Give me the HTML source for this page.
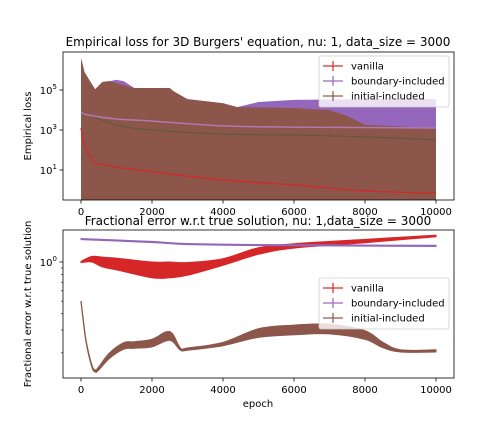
<!DOCTYPE html>
<html><head><meta charset="utf-8"><style>
html,body{margin:0;padding:0;background:#fff;}
svg{display:block;font-family:"DejaVu Sans","Liberation Sans",sans-serif;}
</style></head><body>
<svg id="fig" width="504" height="432" viewBox="0 0 504 432"></svg>
<script>
// ---- Top chart data (empirical loss) ----
const topVanillaEpochs=[0,50,150,300,400,1000,2000,4000,6000,8000,10000];
const topVanillaMean=[1260,400,100,35,22,14,8,3.2,1.8,0.9,0.7];
const topBoundaryEpochs=[0,200,1000,2000,4000,6000,10000];
const topBoundaryMean=[7900,5600,3550,2800,1600,1400,1260];
const topBoundaryUpperEpochs=[0,100,300,400,600,800,1000,1200,1500,2500,2700,3000,4000,4400,5000,6000,8000,10000];
const topBoundaryUpper=[4e6,7.9e5,2e5,1.1e5,2.5e5,2.8e5,3.2e5,2.8e5,1.26e5,1.26e5,5e4,3.5e4,2.2e4,1.4e4,2.5e4,3.2e4,3.5e4,3.5e4];
const topInitialEpochs=[0,1000,2000,4000,6000,8000,10000];
const topInitialMean=[7900,1800,1000,630,560,450,320];
const topInitialUpperEpochs=[0,50,100,300,400,600,800,1500,2500,2600,3000,4000,4400,6000,7000,7500,8000,10000];
const topInitialUpper=[4e6,1.8e6,7.9e5,2e5,1.1e5,2.5e5,2.8e5,1.26e5,1.26e5,8.9e4,3.5e4,2.2e4,1.4e4,1.26e4,1e4,5000,1800,1260];
const topXTicks=[0,2000,4000,6000,8000,10000];
const topYTicks=[1,3,5];
// ---- Bottom chart data (fractional error) ----
const botVanillaEpochs=[0,300,600,1000,2000,2500,3000,4000,5000,6000,8000,10000];
const botVanillaMean=[1.00,1.05,1.00,0.965,0.87,0.87,0.885,1.00,1.215,1.33,1.45,1.585];
const botVanillaErr=[1.01,1.05,1.09,1.11,1.15,1.15,1.12,1.06,1.06,1.04,1.03,1.015];
const botBoundaryEpochs=[0,2000,3000,5000,10000];
const botBoundaryMean=[1.50,1.425,1.375,1.35,1.33];
const botBoundaryErr=[1.01,1.01,1.01,1.01,1.01];
const botInitialEpochs=[0,50,150,300,400,500,800,1200,1500,2000,2500,2800,3000,4000,5000,6000,7000,8000,8500,9000,10000];
const botInitialMean=[0.501,0.38,0.24,0.16,0.145,0.152,0.19,0.226,0.230,0.238,0.27,0.214,0.214,0.234,0.284,0.300,0.305,0.274,0.230,0.207,0.207];
const botInitialErr=[1,1.01,1.02,1.02,1.02,1.03,1.05,1.06,1.06,1.07,1.08,1.02,1.02,1.03,1.08,1.09,1.09,1.08,1.05,1.02,1.02];
const botXTicks=[0,2000,4000,6000,8000,10000];

const NS="http://www.w3.org/2000/svg";
const svg=document.getElementById('fig');
function el(tag,attrs,parent,text){const e=document.createElementNS(NS,tag);for(const k in attrs)e.setAttribute(k,attrs[k]);if(text!==undefined)e.textContent=text;(parent||svg).appendChild(e);return e;}
const xS=v=>81+v*(436-81)/10000;
const yTop=v=>190-20*Math.log10(v);
const yBot=v=>262-130*Math.log10(v);
function smooth(pts,start){ // Catmull-Rom through points
  let d=(start?'M':'L')+pts[0][0].toFixed(1)+' '+pts[0][1].toFixed(1);
  for(let i=0;i<pts.length-1;i++){
    const p0=pts[Math.max(0,i-1)],p1=pts[i],p2=pts[i+1],p3=pts[Math.min(pts.length-1,i+2)];
    const c1=[p1[0]+(p2[0]-p0[0])/6,p1[1]+(p2[1]-p0[1])/6];
    const c2=[p2[0]-(p3[0]-p1[0])/6,p2[1]-(p3[1]-p1[1])/6];
    d+=' C'+c1[0].toFixed(1)+' '+c1[1].toFixed(1)+' '+c2[0].toFixed(1)+' '+c2[1].toFixed(1)+' '+p2[0].toFixed(1)+' '+p2[1].toFixed(1);
  }
  return d;
}
function linePath(ex,vals,ys){return smooth(ex.map((e,i)=>[xS(e),ys(vals[i])]),true);}
function bandPath(ex,up,lo,ys){
  let d=ex.map((e,i)=>(i?'L':'M')+xS(e).toFixed(1)+' '+ys(up[i]).toFixed(1)).join(' ');
  for(let i=ex.length-1;i>=0;i--)d+=' L'+xS(ex[i]).toFixed(1)+' '+ys(lo[i]).toFixed(1);
  return d+' Z';
}
function smoothBand(ex,up,lo,ys){
  const a=ex.map((e,i)=>[xS(e),ys(up[i])]);
  const b=ex.map((e,i)=>[xS(e),ys(lo[i])]).reverse();
  return smooth(a,true)+' '+smooth(b,false)+' Z';
}
el('defs',{}).innerHTML='<clipPath id="cTop"><rect x="63" y="52" width="391" height="148"/></clipPath><clipPath id="cBot"><rect x="63" y="230" width="391" height="148"/></clipPath>';

// ---- Top axes ----
const gt=el('g',{'clip-path':'url(#cTop)'});

let p=el('path',{d:bandPath(topBoundaryUpperEpochs,topBoundaryUpper,topBoundaryUpperEpochs.map(()=>1e-3),yTop),fill:'#9467bd'},gt);

p=el('path',{d:bandPath(topInitialUpperEpochs,topInitialUpper,topInitialUpperEpochs.map(()=>1e-3),yTop),fill:'#8c564b'},gt);

p=el('path',{d:linePath(topInitialEpochs,topInitialMean,yTop),fill:'none',stroke:'#5a5a3c','stroke-width':1},gt);

p=el('path',{d:linePath(topBoundaryEpochs,topBoundaryMean,yTop),fill:'none',stroke:'#b07ab0','stroke-width':1.5},gt);

p=el('path',{d:linePath(topVanillaEpochs,topVanillaMean,yTop),fill:'none',stroke:'#d62728','stroke-width':1.2},gt);

el('rect',{x:63,y:52,width:391,height:148,fill:'none',stroke:'#000','stroke-width':0.8});
topXTicks.forEach(t=>{el('line',{x1:xS(t),x2:xS(t),y1:200,y2:203.5,stroke:'#000','stroke-width':0.8});
  const tx=el('text',{x:xS(t),y:215,'font-size':10,'text-anchor':'middle'},svg,String(t));});
topYTicks.forEach(t=>{const y=yTop(Math.pow(10,t));el('line',{x1:59.5,x2:63,y1:y,y2:y,stroke:'#000','stroke-width':0.8});
  const tx=el('text',{x:57,y:y+4,'font-size':10,'text-anchor':'end'},svg);tx.innerHTML='10<tspan dy="-5" font-size="7">'+t+'</tspan>';
  });
let t=el('text',{x:31,y:126,'font-size':10,'text-anchor':'middle',transform:'rotate(-90 31 126)'},svg,'Empirical loss');


// ---- Bottom axes ----
const gb=el('g',{'clip-path':'url(#cBot)'});

function botSeries(ex,mean,err,color,name){
  const b=el('path',{d:smoothBand(ex,mean.map((m,i)=>m*err[i]),mean.map((m,i)=>m/err[i]),yBot),fill:color,stroke:color,'stroke-width':1},gb);
  
  const l=el('path',{d:linePath(ex,mean,yBot),fill:'none',stroke:color,'stroke-width':1.2},gb);
  
}
botSeries(botVanillaEpochs,botVanillaMean,botVanillaErr,'#d62728','vanilla');
botSeries(botBoundaryEpochs,botBoundaryMean,botBoundaryErr,'#9467bd','boundary');
botSeries(botInitialEpochs,botInitialMean,botInitialErr,'#8c564b','initial');
el('rect',{x:63,y:230,width:391,height:148,fill:'none',stroke:'#000','stroke-width':0.8});
botXTicks.forEach(v=>{el('line',{x1:xS(v),x2:xS(v),y1:378,y2:381.5,stroke:'#000','stroke-width':0.8});
  const tx=el('text',{x:xS(v),y:393,'font-size':10,'text-anchor':'middle'},svg,String(v));});
[0.2,0.3,0.4,0.5,0.6,0.7,0.8,0.9].forEach(v=>{const y=yBot(v);el('line',{x1:61,x2:63,y1:y,y2:y,stroke:'#000','stroke-width':0.6});});
el('line',{x1:59.5,x2:63,y1:yBot(1),y2:yBot(1),stroke:'#000','stroke-width':0.8});
t=el('text',{x:57,y:yBot(1)+4,'font-size':10,'text-anchor':'end'});t.innerHTML='10<tspan dy="-5" font-size="7">0</tspan>';

t=el('text',{x:258,y:407,'font-size':10,'text-anchor':'middle'},svg,'epoch');

t=el('text',{x:31,y:304,'font-size':10,'text-anchor':'middle',transform:'rotate(-90 31 304)'},svg,'Fractional error w.r.t true solution');


// titles
t=el('text',{x:258,y:46,'font-size':12,'text-anchor':'middle'},svg,"Empirical loss for 3D Burgers' equation, nu: 1, data_size = 3000");

t=el('text',{x:258,y:225,'font-size':12,'text-anchor':'middle'},svg,'Fractional error w.r.t true solution, nu: 1,data_size = 3000');


// legends
const legendNames=['vanilla','boundary-included','initial-included'];
const legendColors=['#d62728','#9467bd','#8c564b'];
function legend(x,y,name){
  const g=el('g',{});
  
  el('rect',{x:x,y:y,width:130,height:51,rx:2,fill:'#fff','fill-opacity':0.8,stroke:'#ccc','stroke-width':0.8},g);
  legendNames.forEach((n,i)=>{const cy=y+10+i*15;
    el('line',{x1:x+4,x2:x+24,y1:cy,y2:cy,stroke:legendColors[i],'stroke-width':1.5,'stroke-opacity':0.8},g);
    el('line',{x1:x+14,x2:x+14,y1:cy-5,y2:cy+5,stroke:legendColors[i],'stroke-width':1.5,'stroke-opacity':0.8},g);
    const tx=el('text',{x:x+32,y:cy+3.5,'font-size':10},g,n);
    });
}
legend(319,56,'top-legend');
legend(319,278,'bottom-legend');
</script>
</body></html>
